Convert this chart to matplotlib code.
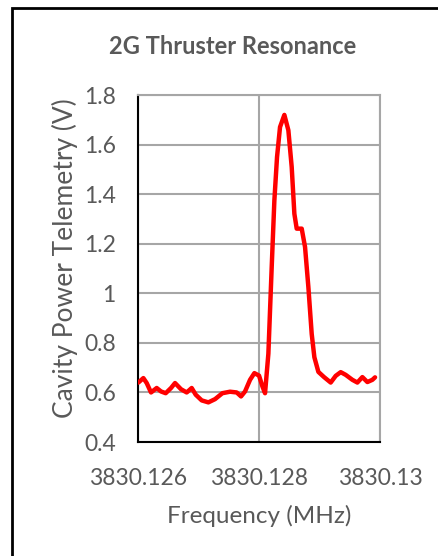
import matplotlib.pyplot as plt
from matplotlib.patches import Rectangle

# Data
freq = [3830.1260055, 3830.1260882, 3830.1261433, 3830.1262149, 3830.1263086,
        3830.1263802, 3830.1264574, 3830.1265455, 3830.1266116, 3830.1267108,
        3830.1268045, 3830.1268871, 3830.1269532, 3830.1270524, 3830.1271626,
        3830.1272728, 3830.1273940, 3830.1275208, 3830.1276310, 3830.1277026,
        3830.1277687, 3830.1278514, 3830.1279230, 3830.1280001, 3830.1280552,
        3830.1280992, 3830.1281543, 3830.1282094, 3830.1282535, 3830.1282975,
        3830.1283471, 3830.1284187, 3830.1284848, 3830.1285399, 3830.1285840,
        3830.1286226, 3830.1287053, 3830.1287604, 3830.1288155, 3830.1288706,
        3830.1289147, 3830.1289808, 3830.1290744, 3830.1291845, 3830.1292672,
        3830.1293498, 3830.1294325, 3830.1295427, 3830.1296253, 3830.1297080,
        3830.1297906, 3830.1298733, 3830.1299173]
power = [0.640, 0.658, 0.638, 0.600, 0.618,
         0.604, 0.597, 0.618, 0.638, 0.613,
         0.600, 0.618, 0.591, 0.568, 0.560,
         0.573, 0.597, 0.603, 0.600, 0.584,
         0.604, 0.651, 0.678, 0.668, 0.625,
         0.597, 0.756, 1.106, 1.375, 1.550,
         1.671, 1.720, 1.658, 1.510, 1.321,
         1.261, 1.261, 1.187, 1.025, 0.836,
         0.742, 0.683, 0.662, 0.640, 0.667,
         0.682, 0.671, 0.651, 0.640, 0.662,
         0.642, 0.651, 0.661]
x_ticks = [3830.126, 3830.128, 3830.130]
x_tick_labels = ["3830.126", "3830.128", "3830.13"]
y_ticks = [0.4, 0.6, 0.8, 1.0, 1.2, 1.4, 1.6, 1.8]
y_tick_labels = ["0.4", "0.6", "0.8", "1", "1.2", "1.4", "1.6", "1.8"]

plt.rcParams['font.family'] = ['Lato', 'DejaVu Sans']
text_color = '#595959'
grid_color = '#A6A6A6'

fig = plt.figure(figsize=(4.39, 5.56), dpi=100)
ax = fig.add_axes([0.3144, 0.205, 0.5513, 0.624])

ax.plot(freq, power, color='red', linewidth=3.2, solid_joinstyle='round',
        solid_capstyle='round', zorder=3)

ax.set_xlim(3830.126, 3830.130)
ax.set_ylim(0.4, 1.8)
ax.set_xticks(x_ticks)
ax.set_xticklabels(x_tick_labels)
ax.set_yticks(y_ticks)
ax.set_yticklabels(y_tick_labels)
ax.tick_params(length=0, labelsize=16.5, labelcolor=text_color)
ax.tick_params(axis='x', pad=19)
ax.tick_params(axis='y', pad=16)
ax.grid(True, color=grid_color, linewidth=1.5)

ax.spines['left'].set_color('black')
ax.spines['bottom'].set_color('black')
ax.spines['left'].set_linewidth(1.5)
ax.spines['bottom'].set_linewidth(1.5)
ax.spines['top'].set_color(grid_color)
ax.spines['right'].set_color(grid_color)
ax.spines['top'].set_linewidth(1.5)
ax.spines['right'].set_linewidth(1.5)

ax.set_xlabel("Frequency (MHz)", fontsize=17.5, color=text_color, labelpad=11)
ax.set_ylabel("Cavity Power Telemetry (V)", fontsize=19, color=text_color)
ax.yaxis.set_label_coords(-0.25, 0.53)
fig.text(0.529, 0.917, "2G Thruster Resonance", fontsize=17, fontweight='bold',
         color=text_color, ha='center', va='center')

# Black frame around the chart area
fig.patches.append(Rectangle((12 / 439, -0.05), 1.1, 1.05 - 8 / 556,
                             transform=fig.transFigure, fill=False,
                             edgecolor='black', linewidth=2))

fig.savefig("out.png", dpi=100)
